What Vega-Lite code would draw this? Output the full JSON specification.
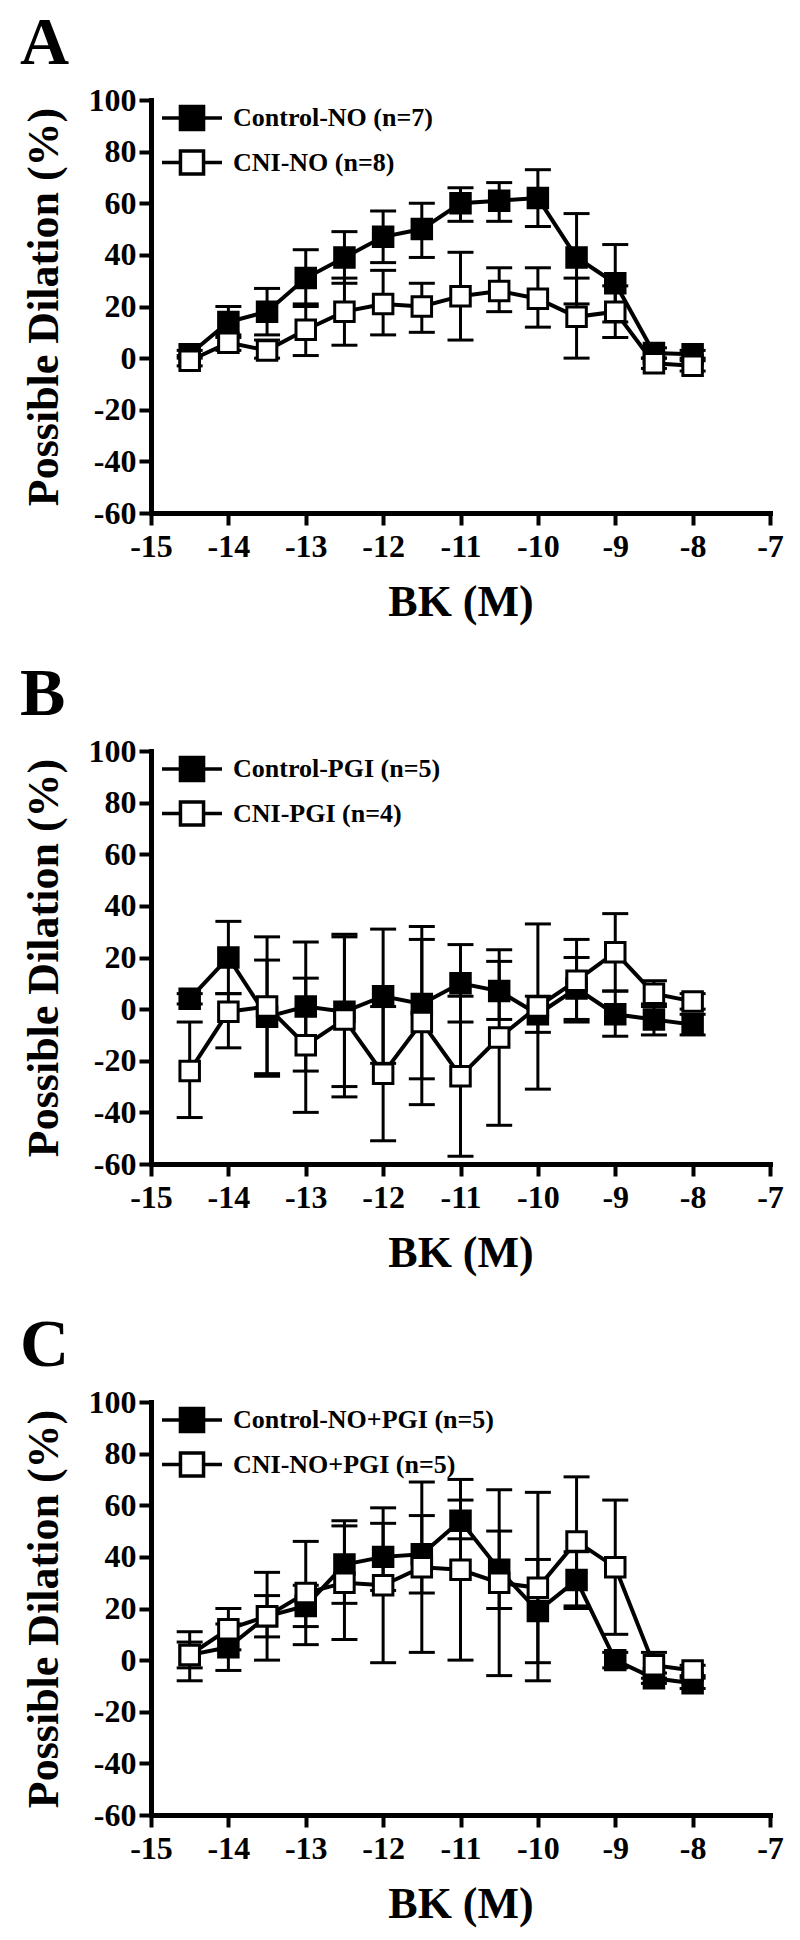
{
  "$schema": "https://vega.github.io/schema/vega-lite/v6.json",
  "padding": {"top": 10, "left": 20, "right": 5, "bottom": 5},
  "background": "white",
  "config": {
    "view": {"stroke": null},
    "font": "Liberation Serif",
    "axis": {
      "domainColor": "black", "domainWidth": 5, "domainCap": "square",
      "tickColor": "black", "tickWidth": 4, "tickSize": 12,
      "labelFont": "Liberation Serif", "labelFontWeight": "bold", "labelFontSize": 32, "labelColor": "black",
      "titleFont": "Liberation Serif", "titleFontWeight": "bold", "titleFontSize": 44, "titleColor": "black",
      "grid": false, "labelFlush": false, "labelOverlap": false
    },
    "axisY": {"labelPadding": 3, "titlePadding": 22},
    "axisX": {"labelPadding": 6, "titlePadding": 18},
    "legend": {
      "orient": "none", "legendX": 24, "legendY": 1, "title": null, "padding": 0,
      "symbolType": "M-2,0H-0.77M0.77,0H2M-0.77,-0.77H0.77V0.77H-0.77Z",
      "symbolSize": 900, "symbolStrokeColor": "black", "symbolStrokeWidth": 3.5, "symbolOpacity": 1,
      "labelFont": "Liberation Serif", "labelFontWeight": "bold", "labelFontSize": 26, "labelColor": "black",
      "labelOffset": 24, "rowPadding": 6.5, "labelLimit": 500
    },
    "title": {"anchor": "start", "frame": "group", "fontSize": 68, "font": "Liberation Serif", "fontWeight": "bold", "color": "black", "dx": -131, "offset": 6, "baseline": "alphabetic"}
  },
  "datasets": {
    "A": [
      {"series": "Control-NO (n=7)", "x": -14.5, "y": 1.5, "lo": 0, "hi": 3},
      {"series": "Control-NO (n=7)", "x": -14, "y": 14, "lo": 8, "hi": 20},
      {"series": "Control-NO (n=7)", "x": -13.5, "y": 18, "lo": 9, "hi": 27},
      {"series": "Control-NO (n=7)", "x": -13, "y": 31, "lo": 21, "hi": 42},
      {"series": "Control-NO (n=7)", "x": -12.5, "y": 39, "lo": 29, "hi": 49},
      {"series": "Control-NO (n=7)", "x": -12, "y": 47, "lo": 37, "hi": 57},
      {"series": "Control-NO (n=7)", "x": -11.5, "y": 50, "lo": 39, "hi": 60},
      {"series": "Control-NO (n=7)", "x": -11, "y": 60, "lo": 53, "hi": 66},
      {"series": "Control-NO (n=7)", "x": -10.5, "y": 61, "lo": 53, "hi": 68},
      {"series": "Control-NO (n=7)", "x": -10, "y": 62, "lo": 51, "hi": 73},
      {"series": "Control-NO (n=7)", "x": -9.5, "y": 39, "lo": 21, "hi": 56},
      {"series": "Control-NO (n=7)", "x": -9, "y": 29, "lo": 14, "hi": 44},
      {"series": "Control-NO (n=7)", "x": -8.5, "y": 2, "lo": 0, "hi": 4},
      {"series": "Control-NO (n=7)", "x": -8, "y": 1.5, "lo": 0, "hi": 3},
      {"series": "CNI-NO (n=8)", "x": -14.5, "y": -1, "lo": -3, "hi": 1},
      {"series": "CNI-NO (n=8)", "x": -14, "y": 6, "lo": 3, "hi": 9},
      {"series": "CNI-NO (n=8)", "x": -13.5, "y": 3, "lo": 0, "hi": 7},
      {"series": "CNI-NO (n=8)", "x": -13, "y": 11, "lo": 1, "hi": 20},
      {"series": "CNI-NO (n=8)", "x": -12.5, "y": 18, "lo": 5, "hi": 31},
      {"series": "CNI-NO (n=8)", "x": -12, "y": 21, "lo": 9, "hi": 34},
      {"series": "CNI-NO (n=8)", "x": -11.5, "y": 20, "lo": 10, "hi": 29},
      {"series": "CNI-NO (n=8)", "x": -11, "y": 24, "lo": 7, "hi": 41},
      {"series": "CNI-NO (n=8)", "x": -10.5, "y": 26, "lo": 18, "hi": 35},
      {"series": "CNI-NO (n=8)", "x": -10, "y": 23, "lo": 12, "hi": 35},
      {"series": "CNI-NO (n=8)", "x": -9.5, "y": 16, "lo": 0, "hi": 31},
      {"series": "CNI-NO (n=8)", "x": -9, "y": 18, "lo": 8, "hi": 28},
      {"series": "CNI-NO (n=8)", "x": -8.5, "y": -2, "lo": -4, "hi": 0},
      {"series": "CNI-NO (n=8)", "x": -8, "y": -3, "lo": -5, "hi": -1}
    ],
    "B": [
      {"series": "Control-PGI (n=5)", "x": -14.5, "y": 4, "lo": 2, "hi": 6},
      {"series": "Control-PGI (n=5)", "x": -14, "y": 20, "lo": 6, "hi": 34},
      {"series": "Control-PGI (n=5)", "x": -13.5, "y": -3, "lo": -25, "hi": 19},
      {"series": "Control-PGI (n=5)", "x": -13, "y": 1, "lo": -24, "hi": 26},
      {"series": "Control-PGI (n=5)", "x": -12.5, "y": -1, "lo": -30, "hi": 29},
      {"series": "Control-PGI (n=5)", "x": -12, "y": 5, "lo": -21, "hi": 31},
      {"series": "Control-PGI (n=5)", "x": -11.5, "y": 2, "lo": -27, "hi": 32},
      {"series": "Control-PGI (n=5)", "x": -11, "y": 10, "lo": -5, "hi": 25},
      {"series": "Control-PGI (n=5)", "x": -10.5, "y": 7, "lo": -4, "hi": 18.5},
      {"series": "Control-PGI (n=5)", "x": -10, "y": -2, "lo": -9, "hi": 5},
      {"series": "Control-PGI (n=5)", "x": -9.5, "y": 8, "lo": -4, "hi": 20},
      {"series": "Control-PGI (n=5)", "x": -9, "y": -2, "lo": -10.5, "hi": 7},
      {"series": "Control-PGI (n=5)", "x": -8.5, "y": -4, "lo": -10, "hi": 2},
      {"series": "Control-PGI (n=5)", "x": -8, "y": -6, "lo": -10, "hi": -2},
      {"series": "CNI-PGI (n=4)", "x": -14.5, "y": -24, "lo": -42, "hi": -5},
      {"series": "CNI-PGI (n=4)", "x": -14, "y": -1, "lo": -15, "hi": 6},
      {"series": "CNI-PGI (n=4)", "x": -13.5, "y": 1, "lo": -26, "hi": 28},
      {"series": "CNI-PGI (n=4)", "x": -13, "y": -14, "lo": -40, "hi": 12},
      {"series": "CNI-PGI (n=4)", "x": -12.5, "y": -4, "lo": -34, "hi": 28},
      {"series": "CNI-PGI (n=4)", "x": -12, "y": -25, "lo": -51, "hi": 1},
      {"series": "CNI-PGI (n=4)", "x": -11.5, "y": -5, "lo": -37, "hi": 27},
      {"series": "CNI-PGI (n=4)", "x": -11, "y": -26, "lo": -57, "hi": 5},
      {"series": "CNI-PGI (n=4)", "x": -10.5, "y": -11, "lo": -45, "hi": 23},
      {"series": "CNI-PGI (n=4)", "x": -10, "y": 1, "lo": -31, "hi": 33},
      {"series": "CNI-PGI (n=4)", "x": -9.5, "y": 11, "lo": -5, "hi": 27},
      {"series": "CNI-PGI (n=4)", "x": -9, "y": 22, "lo": 7, "hi": 37},
      {"series": "CNI-PGI (n=4)", "x": -8.5, "y": 6, "lo": 1, "hi": 11},
      {"series": "CNI-PGI (n=4)", "x": -8, "y": 3, "lo": 0, "hi": 6}
    ],
    "C": [
      {"series": "Control-NO+PGI (n=5)", "x": -14.5, "y": 2, "lo": -8, "hi": 11},
      {"series": "Control-NO+PGI (n=5)", "x": -14, "y": 5, "lo": -4, "hi": 14},
      {"series": "Control-NO+PGI (n=5)", "x": -13.5, "y": 17, "lo": 0, "hi": 34},
      {"series": "Control-NO+PGI (n=5)", "x": -13, "y": 21, "lo": 13, "hi": 29},
      {"series": "Control-NO+PGI (n=5)", "x": -12.5, "y": 37, "lo": 22, "hi": 54},
      {"series": "Control-NO+PGI (n=5)", "x": -12, "y": 40, "lo": 27, "hi": 53},
      {"series": "Control-NO+PGI (n=5)", "x": -11.5, "y": 41, "lo": 26, "hi": 56},
      {"series": "Control-NO+PGI (n=5)", "x": -11, "y": 54, "lo": 47, "hi": 62},
      {"series": "Control-NO+PGI (n=5)", "x": -10.5, "y": 35, "lo": 20, "hi": 50},
      {"series": "Control-NO+PGI (n=5)", "x": -10, "y": 19, "lo": -1, "hi": 39},
      {"series": "Control-NO+PGI (n=5)", "x": -9.5, "y": 31, "lo": 20, "hi": 42},
      {"series": "Control-NO+PGI (n=5)", "x": -9, "y": 0, "lo": -3, "hi": 3},
      {"series": "Control-NO+PGI (n=5)", "x": -8.5, "y": -7, "lo": -9, "hi": -5},
      {"series": "Control-NO+PGI (n=5)", "x": -8, "y": -9, "lo": -11, "hi": -7},
      {"series": "CNI-NO+PGI (n=5)", "x": -14.5, "y": 2, "lo": -3, "hi": 7},
      {"series": "CNI-NO+PGI (n=5)", "x": -14, "y": 12, "lo": 4, "hi": 20},
      {"series": "CNI-NO+PGI (n=5)", "x": -13.5, "y": 17, "lo": 9, "hi": 25},
      {"series": "CNI-NO+PGI (n=5)", "x": -13, "y": 26, "lo": 6, "hi": 46},
      {"series": "CNI-NO+PGI (n=5)", "x": -12.5, "y": 30, "lo": 8, "hi": 52},
      {"series": "CNI-NO+PGI (n=5)", "x": -12, "y": 29, "lo": -1, "hi": 59},
      {"series": "CNI-NO+PGI (n=5)", "x": -11.5, "y": 36, "lo": 3, "hi": 69},
      {"series": "CNI-NO+PGI (n=5)", "x": -11, "y": 35, "lo": 0, "hi": 70},
      {"series": "CNI-NO+PGI (n=5)", "x": -10.5, "y": 30, "lo": -6, "hi": 66},
      {"series": "CNI-NO+PGI (n=5)", "x": -10, "y": 28, "lo": -8, "hi": 65},
      {"series": "CNI-NO+PGI (n=5)", "x": -9.5, "y": 46, "lo": 21, "hi": 71},
      {"series": "CNI-NO+PGI (n=5)", "x": -9, "y": 36, "lo": 10, "hi": 62},
      {"series": "CNI-NO+PGI (n=5)", "x": -8.5, "y": -2, "lo": -7, "hi": 3},
      {"series": "CNI-NO+PGI (n=5)", "x": -8, "y": -4, "lo": -6, "hi": -2}
    ]
  },
  "vconcat": [
    {
      "title": {"text": "A"},
      "width": 619, "height": 413,
      "data": {"name": "A"},
      "encoding": {
        "x": {"field": "x", "type": "quantitative", "scale": {"domain": [-15, -7], "nice": false, "zero": false},
              "axis": {"title": "BK (M)", "values": [-15, -14, -13, -12, -11, -10, -9, -8, -7], "labelExpr": "'' + datum.value"}}
      },
      "layer": [
        {"mark": {"type": "rule", "color": "black", "strokeWidth": 3},
         "encoding": {"y": {"field": "lo", "type": "quantitative", "scale": {"domain": [-60, 100], "nice": false, "zero": false},
                            "axis": {"title": "Possible Dilation (%)", "values": [-60, -40, -20, 0, 20, 40, 60, 80, 100], "labelExpr": "'' + datum.value"}},
                      "y2": {"field": "hi"}}},
        {"mark": {"type": "tick", "orient": "horizontal", "color": "black", "size": 26, "thickness": 3, "opacity": 1},
         "encoding": {"y": {"field": "hi", "type": "quantitative"}}},
        {"mark": {"type": "tick", "orient": "horizontal", "color": "black", "size": 26, "thickness": 3, "opacity": 1},
         "encoding": {"y": {"field": "lo", "type": "quantitative"}}},
        {"mark": {"type": "line", "color": "black", "strokeWidth": 4},
         "encoding": {"y": {"field": "y", "type": "quantitative"}, "detail": {"field": "series"}}},
        {"mark": {"type": "point", "shape": "square", "stroke": "black", "strokeWidth": 3, "size": 380, "opacity": 1},
         "encoding": {"y": {"field": "y", "type": "quantitative"},
                      "fill": {"field": "series", "type": "nominal", "scale": {"domain": ["Control-NO (n=7)", "CNI-NO (n=8)"], "range": ["black", "white"]}}}}
      ]
    },
    {
      "title": {"text": "B"},
      "width": 619, "height": 413,
      "data": {"name": "B"},
      "encoding": {
        "x": {"field": "x", "type": "quantitative", "scale": {"domain": [-15, -7], "nice": false, "zero": false},
              "axis": {"title": "BK (M)", "values": [-15, -14, -13, -12, -11, -10, -9, -8, -7], "labelExpr": "'' + datum.value"}}
      },
      "layer": [
        {"mark": {"type": "rule", "color": "black", "strokeWidth": 3},
         "encoding": {"y": {"field": "lo", "type": "quantitative", "scale": {"domain": [-60, 100], "nice": false, "zero": false},
                            "axis": {"title": "Possible Dilation (%)", "values": [-60, -40, -20, 0, 20, 40, 60, 80, 100], "labelExpr": "'' + datum.value"}},
                      "y2": {"field": "hi"}}},
        {"mark": {"type": "tick", "orient": "horizontal", "color": "black", "size": 26, "thickness": 3, "opacity": 1},
         "encoding": {"y": {"field": "hi", "type": "quantitative"}}},
        {"mark": {"type": "tick", "orient": "horizontal", "color": "black", "size": 26, "thickness": 3, "opacity": 1},
         "encoding": {"y": {"field": "lo", "type": "quantitative"}}},
        {"mark": {"type": "line", "color": "black", "strokeWidth": 4},
         "encoding": {"y": {"field": "y", "type": "quantitative"}, "detail": {"field": "series"}}},
        {"mark": {"type": "point", "shape": "square", "stroke": "black", "strokeWidth": 3, "size": 380, "opacity": 1},
         "encoding": {"y": {"field": "y", "type": "quantitative"},
                      "fill": {"field": "series", "type": "nominal", "scale": {"domain": ["Control-PGI (n=5)", "CNI-PGI (n=4)"], "range": ["black", "white"]}}}}
      ]
    },
    {
      "title": {"text": "C"},
      "width": 619, "height": 413,
      "data": {"name": "C"},
      "encoding": {
        "x": {"field": "x", "type": "quantitative", "scale": {"domain": [-15, -7], "nice": false, "zero": false},
              "axis": {"title": "BK (M)", "values": [-15, -14, -13, -12, -11, -10, -9, -8, -7], "labelExpr": "'' + datum.value"}}
      },
      "layer": [
        {"mark": {"type": "rule", "color": "black", "strokeWidth": 3},
         "encoding": {"y": {"field": "lo", "type": "quantitative", "scale": {"domain": [-60, 100], "nice": false, "zero": false},
                            "axis": {"title": "Possible Dilation (%)", "values": [-60, -40, -20, 0, 20, 40, 60, 80, 100], "labelExpr": "'' + datum.value"}},
                      "y2": {"field": "hi"}}},
        {"mark": {"type": "tick", "orient": "horizontal", "color": "black", "size": 26, "thickness": 3, "opacity": 1},
         "encoding": {"y": {"field": "hi", "type": "quantitative"}}},
        {"mark": {"type": "tick", "orient": "horizontal", "color": "black", "size": 26, "thickness": 3, "opacity": 1},
         "encoding": {"y": {"field": "lo", "type": "quantitative"}}},
        {"mark": {"type": "line", "color": "black", "strokeWidth": 4},
         "encoding": {"y": {"field": "y", "type": "quantitative"}, "detail": {"field": "series"}}},
        {"mark": {"type": "point", "shape": "square", "stroke": "black", "strokeWidth": 3, "size": 380, "opacity": 1},
         "encoding": {"y": {"field": "y", "type": "quantitative"},
                      "fill": {"field": "series", "type": "nominal", "scale": {"domain": ["Control-NO+PGI (n=5)", "CNI-NO+PGI (n=5)"], "range": ["black", "white"]}}}}
      ]
    }
  ],
  "spacing": 238,
  "bounds": "flush",
  "resolve": {"scale": {"x": "independent", "y": "independent", "fill": "independent"}, "legend": {"fill": "independent"}}
}
